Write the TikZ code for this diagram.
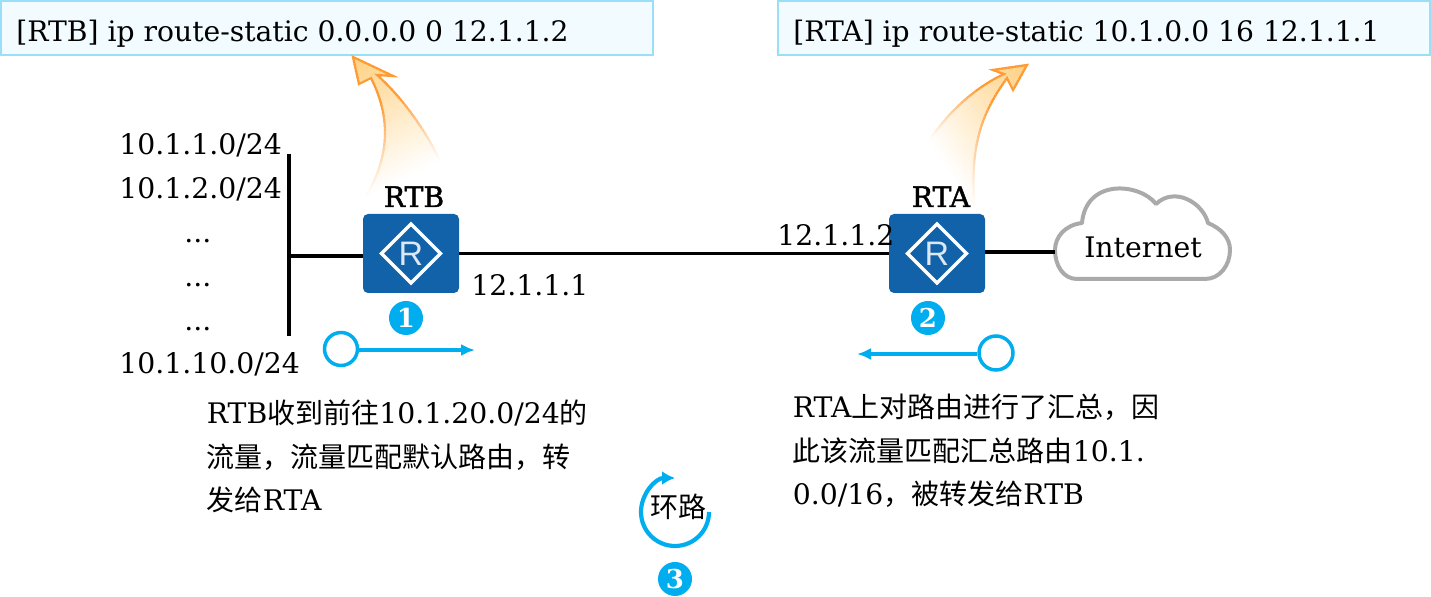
\documentclass[tikz,border=0pt]{standalone}
\usepackage{fontspec}
\setmainfont{DejaVu Serif}
\newfontfamily\cjkfont{Noto Sans CJK SC}
\newfontfamily\semibold[FakeBold=1.5]{DejaVu Serif}
\newfontfamily\routerfont{Liberation Sans}
\usetikzlibrary{arrows.meta}
\definecolor{cmdfill}{HTML}{F2FBFF}
\definecolor{cmdline}{HTML}{9ADFF8}
\definecolor{routerblue}{HTML}{1262AA}
\definecolor{flowblue}{HTML}{00AEEF}
\definecolor{cloudgray}{HTML}{AAAAAA}
\definecolor{arrowfill}{HTML}{FFD182}
\definecolor{arrowline}{HTML}{FF9A33}
\newcommand{\cj}[1]{{\fontsize{14}{16}\cjkfont #1}}
% #1 path, #2 tip, #3 angle, #4 fade length
\newcommand{\fadearrow}[4]{%
  \foreach \k in {0,...,39}{%
    \pgfmathsetmacro{\da}{#4*\k/40-20}%
    \pgfmathsetmacro{\db}{#4*(\k+1.3)/40}%
    \pgfmathtruncatemacro{\pf}{100*(1-\k/40)}%
    \pgfmathtruncatemacro{\ps}{min(100,170*(1-\k/40))}%
    \ifnum\k=0\relax\else\pgfmathsetmacro{\da}{#4*\k/40}\fi
    \begin{scope}
      \clip[shift={#2},rotate=#3] (-300,\da) rectangle (300,\db);
      \fill[arrowfill!\pf!white] #1;
      \draw[arrowline!\ps!white,line width=1.1pt,line join=miter] #1;
    \end{scope}
  }%
}
\tikzset{
  x=0.5pt,y=-0.5pt,
  cmdbox/.style={draw=cmdline,fill=cmdfill,line width=1pt},
  cmdtext/.style={anchor=base west,inner sep=0pt,font=\fontsize{14.1}{16}\selectfont},
  lab/.style={anchor=base west,inner sep=0pt,font=\fontsize{14.15}{16}\selectfont},
  boldlab/.style={anchor=base,inner sep=0pt,font=\semibold\fontsize{14.1}{16}\selectfont},
  routerbox/.style={fill=routerblue,rounded corners=2.5pt,minimum width=48pt,minimum height=39.5pt,inner sep=0pt},
  badge/.style={circle,fill=flowblue,minimum size=17pt,inner sep=0pt,text=white,font=\bfseries\fontsize{13}{13}\selectfont},
  wire/.style={line width=1.6pt,black},
  flow/.style={draw=flowblue,line width=1.6pt},
  flowring/.style={circle,draw=flowblue,line width=1.75pt,fill=white,inner sep=0pt},
}
\newcommand{\routerglyph}[1]{%
  \draw[white,line width=1.7pt,line join=miter] (#1)++(0,-29.5) -- ++(29.5,29.5) -- ++(-29.5,29.5) -- ++(-29.5,-29.5) -- cycle;
  \node[inner sep=0pt,text=white!85!routerblue,font=\routerfont\fontsize{17}{17}\selectfont] at (#1) {R};
}
\begin{document}
\begin{tikzpicture}
\useasboundingbox (0,0) rectangle (1431,597);
% command boxes
\path[cmdbox] (1,1) rectangle (653,55);
\path[cmdbox] (778,1) rectangle (1430,55);
\node[cmdtext] (cmda) at (16,42) {[RTB] ip route-static 0.0.0.0 0 12.1.1.2};
\node[cmdtext] (cmdb) at (793,42) {[RTA] ip route-static 10.1.0.0 16 12.1.1.1};
% fading arrows
\fadearrow{(353,57) -- (393,76) -- (377,75) .. controls (405,100) and (428,135) .. (441,163) -- (365,198) .. controls (385,165) and (395,125) .. (371,78) -- (359,84) -- cycle}{(353,57)}{26}{130}
\fadearrow{(1027,65) -- (993,70) -- (1004,74) .. controls (975,88) and (950,110) .. (928,142) -- (974,205) .. controls (971,150) and (978,118) .. (1007,78) -- (1013,90) -- cycle}{(1027,65)}{-56}{122}
% routers
\node[routerbox] (rtb) at (411,253.5) {};
\node[routerbox] (rta) at (937,253.5) {};
\routerglyph{rtb.center}
\routerglyph{rta.center}
\node[boldlab] (rtblab) at (414,207) {RTB};
\node[boldlab] (rtalab) at (941,207) {RTA};
% cloud
\draw[cloudgray,line width=2pt,fill=white,line join=round] (1077,279) -- (1205,279)
  .. controls (1220,279) and (1230,265) .. (1230,250)
  .. controls (1230,237) and (1220,228) .. (1208,223)
  .. controls (1203,203) and (1175,186) .. (1156,204)
  .. controls (1140,183) and (1086,178) .. (1082,223)
  .. controls (1065,225) and (1055,237) .. (1055,250)
  .. controls (1055,265) and (1063,279) .. (1077,279) -- cycle;
\coordinate (cloudw) at (1055,252);
\node[lab,anchor=base] (inet) at (1143,258) {Internet};
% wires
\coordinate (bust) at (289,154);
\coordinate (busb) at (289,336);
\coordinate (busm) at (289,256);
\draw[wire] (bust) -- (busb);
\draw[wire] (busm) -- (rtb.west |- busm);
\draw[wire] (rtb.east) -- (rta.west);
\draw[wire] (rta.east |- cloudw) -- (cloudw);
% left labels
\node[lab] (n1) at (119,155) {10.1.1.0/24};
\node[lab] (n2) at (119,199) {10.1.2.0/24};
\node[lab] (n3) at (184,243) {...};
\node[lab] (n4) at (184,287) {...};
\node[lab] (n5) at (184,331) {...};
\node[lab] (n6) at (119,374) {10.1.10.0/24};
\node[lab] (ip1) at (471,296) {12.1.1.1};
\node[lab] (ip2) at (777,246) {12.1.1.2};
% badges
\node[badge] (b1) at (406,318) {1};
\node[badge] (b2) at (928,318) {2};
\node[badge] (b3) at (675,579) {3};
% flows
\node[flowring,minimum size=16.5pt] (ringl) at (341,349) {};
\coordinate (flowl) at (475,350);
\draw[flow,-{Latex[length=7pt,width=6pt]}] (ringl.east |- flowl) -- (flowl);
\node[flowring,minimum size=17pt] (ringr) at (996,353) {};
\coordinate (flowr) at (857,354);
\draw[flow,-{Latex[length=7pt,width=6pt]}] (ringr.west |- flowr) -- (flowr);
% descriptions
\node[lab] (t1) at (206.5,424) {RTB\cj{收到前往}10.1.20.0/24\cj{的}};
\node[lab] (t2) at (206.5,468) {\cj{流量，流量匹配默认路由，转}};
\node[lab] (t3) at (206.5,511) {\cj{发给}RTA};
\node[lab] (t4) at (792.5,418) {RTA\cj{上对路由进行了汇总，因}};
\node[lab] (t5) at (792.5,462) {\cj{此该流量匹配汇总路由}10.1.};
\node[lab] (t6) at (792.5,505) {0.0/16\cj{，被转发给}RTB};
% loop
\draw[flow,line width=2.1pt,-{Latex[length=6.5pt,width=7pt]}] (709,512) arc[start angle=0,end angle=270,radius=34];
\node[lab,anchor=center] (loop) at (678,507) {\cj{环路}};
\end{tikzpicture}
\end{document}
